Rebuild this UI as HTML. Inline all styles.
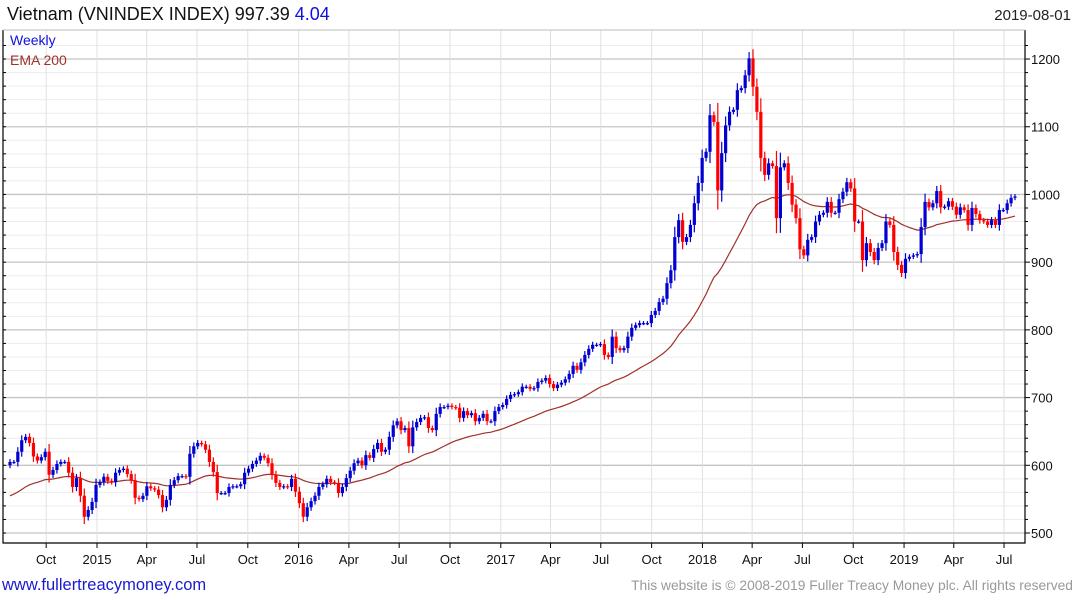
<!DOCTYPE html>
<html><head><meta charset="utf-8">
<style>
body{margin:0;background:#fff;width:1075px;height:600px;overflow:hidden;font-family:"Liberation Sans",sans-serif}
svg{display:block}
</style></head>
<body>
<svg id="chart" width="1075" height="600" xmlns="http://www.w3.org/2000/svg" font-family="Liberation Sans, sans-serif">
  <text x="7" y="20" font-size="18" fill="#111">Vietnam (VNINDEX INDEX) 997.39 <tspan fill="#1010e0">4.04</tspan></text>
  <text x="1071" y="20" font-size="15" fill="#222" text-anchor="end">2019-08-01</text>
  <g id="grid"></g>
  <g id="ema"></g>
  <g id="candles"></g>
  <g id="axes"></g>
  <text x="10" y="45" font-size="14" fill="#1010e0">Weekly</text>
  <text x="10" y="65" font-size="14" fill="#a0302a">EMA 200</text>
  <text x="2" y="590" font-size="16.5" fill="#1a1ad0">www.fullertreacymoney.com</text>
  <text x="1073" y="590" font-size="13.8" fill="#999" text-anchor="end">This website is © 2008-2019 Fuller Treacy Money plc. All rights reserved</text>
</svg>
<script>
const closes = [
605,605,620,637,642,633,613,607,612,620,
586,593,602,605,605,589,568,581,555,524,
534,546,571,575,583,577,575,589,593,595,
587,578,552,550,555,569,566,564,556,538,
549,571,578,584,584,583,617,628,633,631,
623,605,590,559,559,559,568,569,569,572,
589,595,602,607,614,611,603,586,574,568,
569,568,580,561,544,524,538,547,555,568,
572,580,575,574,559,568,581,592,603,607,
600,615,611,624,633,620,623,642,659,665,
652,655,628,656,664,670,671,655,652,676,
686,686,688,686,685,670,680,674,677,665,
670,676,665,665,680,686,689,698,704,705,
708,716,716,713,714,723,725,729,720,714,
719,722,727,735,747,741,752,763,772,778,
778,779,763,760,790,773,770,773,790,803,
807,810,810,810,822,828,841,846,
869,888,937,962,930,937,955,987,1017,1054,
1063,1117,1107,1006,1061,1102,1122,1125,1154,1157,
1176,1201,1159,1122,1054,1029,1046,1042,965,1040,
1046,1017,985,965,919,910,933,937,960,970,
973,989,973,973,993,1004,1018,1009,960,960,
903,928,915,903,921,928,960,955,915,896,
884,905,908,910,912,952,989,981,987,1005,
981,982,990,982,970,981,977,955,980,971,
962,960,955,962,955,977,977,987,995,997
];
const firstOpen = 600;
const emaStart = 555;
const emaPeriod = 40;
const yTicks = [500,600,700,800,900,1000,1100,1200];
const xTickLabels = ["Oct","2015","Apr","Jul","Oct","2016","Apr","Jul","Oct","2017","Apr","Jul","Oct","2018","Apr","Jul","Oct","2019","Apr","Jul"];
const xTickDates = ["2014-10-01","2015-01-01","2015-04-01","2015-07-01","2015-10-01","2016-01-01","2016-04-01","2016-07-01","2016-10-01","2017-01-01","2017-04-01","2017-07-01","2017-10-01","2018-01-01","2018-04-01","2018-07-01","2018-10-01","2019-01-01","2019-04-01","2019-07-01"];

const NS="http://www.w3.org/2000/svg";
const L=3,R=1025,T=30,B=543;
const X0=10,X1=1015;
function y(v){return 533-(v-500)*0.6771;}
function xi(i){return X0+i*(X1-X0)/(closes.length-1);}
function xd(s){const d=(new Date(s+"T00:00:00Z")-new Date("2015-01-01T00:00:00Z"))/86400000;return 97+d*0.5524;}
function mk(tag,attrs,parent){const e=document.createElementNS(NS,tag);for(const k in attrs)e.setAttribute(k,attrs[k]);parent.appendChild(e);return e;}
const grid=document.getElementById('grid'),axes=document.getElementById('axes'),cg=document.getElementById('candles'),eg=document.getElementById('ema');

for(let v=500;v<=1220;v+=20){
  const major=v%100===0;
  const ln=mk('line',{x1:L,x2:R,y1:y(v),y2:y(v),stroke:major?'#c4c4c4':'#ececec','stroke-width':major?1.3:1},grid);
  
  
  const tk=mk('line',{x1:R,x2:R+(major?5:3),y1:y(v),y2:y(v),stroke:'#000'},axes);
  
  
  const lt=mk('line',{x1:L,x2:L+3,y1:y(v),y2:y(v),stroke:'#000'},axes);
  
  
}
yTicks.forEach(v=>{
  const t=mk('text',{x:R+6,y:y(v)+5,'font-size':13,fill:'#111'},axes);
  t.textContent=v;
  
  
});
xTickDates.forEach((d,k)=>{
  const x=xd(d);
  const g=mk('line',{x1:x,x2:x,y1:T,y2:B,stroke:'#e0e0e0'},grid);
  
  
  const tk=mk('line',{x1:x,x2:x,y1:B,y2:B+5,stroke:'#000'},axes);
  
  
  const t=mk('text',{x:x,y:564,'font-size':13,fill:'#111','text-anchor':'middle'},axes);
  t.textContent=xTickLabels[k];
  
  
});
const fr=mk('path',{d:`M${L},${T} V${B} H${R} V${T}`,fill:'none',stroke:'#000','stroke-width':1.2},axes);


const tp=mk('line',{x1:L,x2:R,y1:T,y2:T,stroke:'#bbb'},axes);



let e=emaStart;const a=2/(emaPeriod+1);let pts=[];
closes.forEach((c,i)=>{ if(i>0) e=e+a*(c-e); pts.push(xi(i).toFixed(1)+','+y(e).toFixed(1)); });
const pl=mk('polyline',{points:pts.join(' '),fill:'none',stroke:'#a0302a','stroke-width':1.2},eg);



closes.forEach((c,i)=>{
  const o=i===0?firstOpen:closes[i-1];
  const up=c>=o;const col=up?'#0000d0':'#ff0000';
  const w=Math.abs(c-o)*0.25+3;
  const hi=Math.max(o,c)+w, lo=Math.min(o,c)-w;
  const x=xi(i);
  const g=mk('g',{},cg);
  
  
  mk('line',{x1:x,x2:x,y1:y(hi),y2:y(lo),stroke:col,'stroke-width':1.2},g);
  const top=y(Math.max(o,c)),bot=y(Math.min(o,c));
  mk('rect',{x:x-1.6,y:top,width:3.2,height:Math.max(1.2,bot-top),fill:col},g);
});
</script>
</body></html>
